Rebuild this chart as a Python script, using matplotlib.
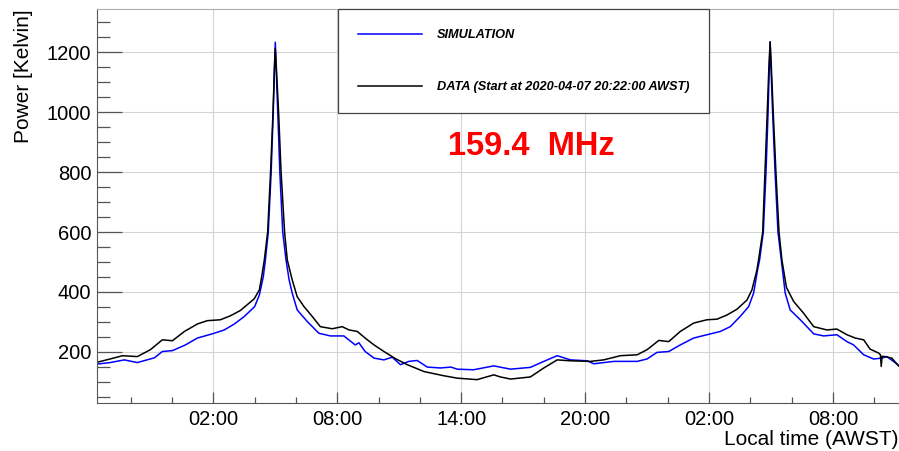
import matplotlib
matplotlib.use("Agg")
from matplotlib import pyplot as plt
from matplotlib.ticker import FixedLocator, MultipleLocator

plt.rcParams['font.family'] = ['Liberation Sans', 'DejaVu Sans']

# hours since midnight of the start day (data start 2020-04-07 20:22 AWST)
t_sim = [20.37, 21.0, 21.69, 22.32, 23.15, 23.53, 24.02, 24.65, 25.23, 25.95,
         26.53, 27.02, 27.5, 28.0, 28.23, 28.42, 28.52, 28.66, 28.8, 28.9,
         28.96, 29.0, 29.04, 29.12, 29.22, 29.36, 29.52, 29.67, 29.82, 30.06,
         30.55, 31.11, 31.67, 32.32, 32.87, 33.05, 33.35, 33.78, 34.26, 34.66,
         35.06, 35.47, 35.87, 36.36, 37.0, 37.5, 37.81, 38.6, 39.58, 40.39,
         41.35, 42.0, 42.65, 43.29, 44.1, 44.42, 45.4, 46.52, 47.0, 47.48,
         48.05, 48.61, 49.26, 49.9, 50.55, 51.03, 51.51, 51.92, 52.16, 52.35,
         52.45, 52.63, 52.76, 52.86, 52.92, 52.96, 53.0, 53.08, 53.2, 53.34,
         53.5, 53.69, 53.93, 54.42, 55.07, 55.55, 56.19, 56.68, 57.0, 57.49,
         57.97, 58.37, 58.61, 58.93, 59.21]
p_sim = [159, 164, 173, 164, 180, 201, 204, 223, 246, 260,
         273, 293, 318, 351, 390, 451, 507, 600, 800, 1000,
         1150, 1234, 1150, 1000, 800, 600, 507, 440, 396, 340,
         301, 262, 253, 253, 223, 230, 201, 179, 173, 182,
         157, 168, 171, 149, 146, 149, 142, 140, 153, 142,
         148, 168, 187, 173, 170, 160, 168, 168, 176, 198,
         201, 223, 246, 257, 268, 284, 318, 351, 396, 473,
         507, 600, 800, 1000, 1150, 1234, 1150, 1000, 800, 600,
         507, 396, 340, 307, 260, 253, 257, 234, 223, 190,
         176, 179, 184, 168, 153]

t_data = [20.37, 21.0, 21.6, 22.32, 22.95, 23.53, 24.02, 24.6, 25.23, 25.71,
          26.34, 26.82, 27.31, 27.98, 28.23, 28.37, 28.47, 28.63, 28.77, 28.89,
          28.96, 29.0, 29.05, 29.16, 29.28, 29.45, 29.58, 29.82, 30.06, 30.39,
          30.79, 31.18, 31.76, 32.24, 32.57, 32.97, 33.35, 33.78, 34.26, 34.82,
          35.39, 36.2, 37.16, 37.81, 38.77, 39.58, 39.9, 40.39, 41.35, 42.0,
          42.65, 43.29, 44.26, 44.9, 45.71, 46.52, 47.0, 47.57, 48.05, 48.61,
          49.26, 49.9, 50.39, 50.87, 51.35, 51.84, 52.08, 52.32, 52.4, 52.6,
          52.71, 52.82, 52.9, 52.96, 53.02, 53.11, 53.24, 53.39, 53.53, 53.75,
          54.1, 54.58, 55.07, 55.71, 56.19, 56.68, 57.08, 57.49, 57.8, 58.21,
          58.3, 58.34, 58.38, 58.53, 58.85, 59.18]
p_data = [165, 176, 187, 184, 207, 240, 237, 268, 293, 304,
          307, 320, 338, 377, 407, 463, 507, 600, 800, 1000,
          1150, 1213, 1150, 1000, 800, 600, 507, 440, 384, 351,
          318, 284, 277, 284, 273, 268, 246, 223, 201, 177,
          157, 134, 120, 112, 107, 123, 116, 109, 116, 146,
          173, 170, 168, 173, 187, 190, 207, 238, 234, 268,
          296, 307, 309, 323, 342, 373, 407, 473, 507, 600,
          800, 1000, 1150, 1236, 1150, 1000, 800, 600, 507, 415,
          368, 329, 284, 273, 276, 257, 246, 240, 209, 196,
          190, 151, 185, 184, 179, 153]

tick_hours = [26, 32, 38, 44, 50, 56]
tick_labels = ["02:00", "08:00", "14:00", "20:00", "02:00", "08:00"]

fig = plt.figure(figsize=(8.99, 4.51), dpi=100)
ax = fig.add_axes([97 / 899, 48 / 451, 802 / 899, 394 / 451])

ax.plot(t_sim, p_sim, color='#0000ff', lw=1.1, label='SIMULATION')
ax.plot(t_data, p_data, color='black', lw=1.1,
        label='DATA (Start at 2020-04-07 20:22:00 AWST)')

ax.set_xlim(20.367, 59.2)
ax.set_ylim(29, 1345)

ax.xaxis.set_major_locator(FixedLocator(tick_hours))
ax.set_xticklabels(tick_labels)
ax.xaxis.set_minor_locator(MultipleLocator(2))
ax.yaxis.set_major_locator(MultipleLocator(200))
ax.yaxis.set_minor_locator(MultipleLocator(50))

ax.grid(True, which='major', color='#d4d4d4', lw=0.8)
ax.set_axisbelow(True)

ax.tick_params(axis='both', which='both', direction='in', colors='#555555',
               labelcolor='black', labelsize=14.5, width=0.9)
ax.tick_params(axis='y', which='major', length=18, pad=4)
ax.tick_params(axis='y', which='minor', length=9)
ax.tick_params(axis='x', which='major', length=8, pad=5)
ax.tick_params(axis='x', which='minor', length=4.5)

ax.spines['right'].set_visible(False)
ax.spines['top'].set_color('#b0b0b0')
ax.spines['left'].set_color('#555555')
ax.spines['bottom'].set_color('#555555')

ax.set_ylabel('Power [Kelvin]', loc='top', fontsize=15, labelpad=10)
ax.set_xlabel('Local time (AWST)', loc='right', fontsize=15, labelpad=1)

ax.text(0.541, 0.652, '159.4  MHz', transform=ax.transAxes, color='#ff0000',
        fontsize=23.5, fontweight='bold', ha='center', va='center')

leg = ax.legend(loc='upper left', bbox_to_anchor=(0.3005, 0.7386, 0.4626, 0.2614),
                mode='expand', borderaxespad=0, fancybox=False, framealpha=1,
                edgecolor='#444444', handlelength=5.0, handletextpad=1.2,
                borderpad=1.57, labelspacing=3.14,
                prop={'size': 9.2, 'weight': 'bold', 'style': 'italic'})
leg.get_frame().set_linewidth(0.9)

fig.savefig('out.png', dpi=100)
